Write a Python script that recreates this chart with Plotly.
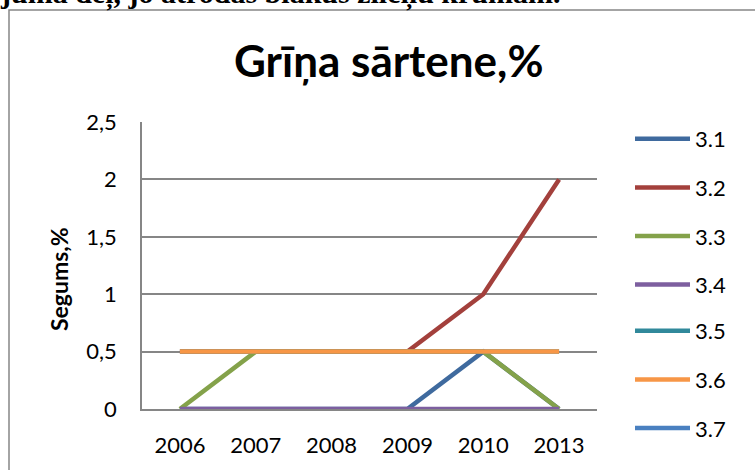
import plotly.graph_objects as go

years = ["2006", "2007", "2008", "2009", "2010", "2013"]
s31 = [0, 0, 0, 0, 0.5, 0]
s32 = [0.5, 0.5, 0.5, 0.5, 1, 2]
s33 = [0, 0.5, 0.5, 0.5, 0.5, 0]
s34 = [0, 0, 0, 0, 0, 0]
s35 = [0.5, 0.5, 0.5, 0.5, 0.5, 0.5]
s36 = [0.5, 0.5, 0.5, 0.5, 0.5, 0.5]
s37 = [None, None, None, None, None, None]

names = ["3.1", "3.2", "3.3", "3.4", "3.5", "3.6", "3.7"]
series = [s31, s32, s33, s34, s35, s36, s37]
colors = ["#3F6A9E", "#A3403C", "#84A24A", "#7D5F9F", "#31899B", "#F79646", "#4A80C0"]
legend_of = ["legend", "legend", "legend", "legend", "legend2", "legend2", "legend2"]

FONT = "Lato"
W, H = 755, 470
L, R, T, B = 142, 158, 122, 61

fig = go.Figure()
for n, s, c, lg in zip(names, series, colors, legend_of):
    fig.add_trace(go.Scatter(x=years, y=s, name=n, mode="lines",
                             line=dict(color=c, width=4.5), legendgroup=n,
                             legend=lg, connectgaps=False))

pw = W - L - R
ph = H - T - B
def px_x(p):
    return (p - L) / pw
def px_y(p):
    return (H - B - p) / ph

leg_common = dict(xanchor="left", yanchor="top",
                  font=dict(family=FONT, size=22, color="black"),
                  tracegroupgap=17, itemwidth=55, bgcolor="rgba(0,0,0,0)",
                  borderwidth=0)

fig.update_layout(
    width=W, height=H,
    margin=dict(l=L, r=R, t=T, b=B, pad=0, autoexpand=False),
    paper_bgcolor="white", plot_bgcolor="white",
    font=dict(family=FONT, size=22, color="black"),
    showlegend=True,
    legend=dict(x=px_x(630), y=px_y(118), **leg_common),
    legend2=dict(x=px_x(630), y=px_y(310), **leg_common),
    xaxis=dict(type="category", range=[-0.5, 5.5], showgrid=False,
               showline=True, linecolor="#868686", linewidth=1.5,
               ticks="", ticklabelstandoff=16, zeroline=False, automargin=False,
               tickfont=dict(family=FONT, size=22)),
    yaxis=dict(range=[0, 2.5], tickvals=[0, 0.5, 1, 1.5, 2, 2.5],
               ticktext=["0", "0,5", "1", "1,5", "2", "2,5"],
               showgrid=True, gridcolor="#868686", gridwidth=1.5,
               showline=True, linecolor="#868686", linewidth=1.5,
               ticks="", ticklabelstandoff=19, zeroline=False, automargin=False,
               tickfont=dict(family=FONT, size=22)),
)

# chart title
fig.add_annotation(text="<b>Grīņa sārtene,%</b>", xref="paper", yref="paper",
                   x=px_x(388), y=px_y(60), xanchor="center", yanchor="middle",
                   showarrow=False, font=dict(family=FONT, size=44, color="black"))
# y-axis title
fig.add_annotation(text="<b>Segums,%</b>", xref="paper", yref="paper",
                   x=px_x(59), y=px_y(279), xanchor="center", yanchor="middle",
                   textangle=-90, showarrow=False,
                   font=dict(family=FONT, size=23, color="black"))
# surrounding text (cut off at top)
fig.add_annotation(text="<b>jumā deļ, jo atrodas blakus zīleņu krūmām.</b>", xref="paper", yref="paper",
                   x=px_x(-2), y=px_y(-6), xanchor="left", yanchor="middle",
                   showarrow=False, font=dict(family="Liberation Serif", size=30, color="black"))
# chart border
fig.add_shape(type="rect", xref="paper", yref="paper",
              x0=px_x(9), x1=px_x(800), y0=px_y(520), y1=px_y(10),
              line=dict(color="#868686", width=1.5), fillcolor="rgba(0,0,0,0)", layer="below")

fig.write_html("out.html", config={"displayModeBar": False},
               post_script="document.body.style.margin='0';")
